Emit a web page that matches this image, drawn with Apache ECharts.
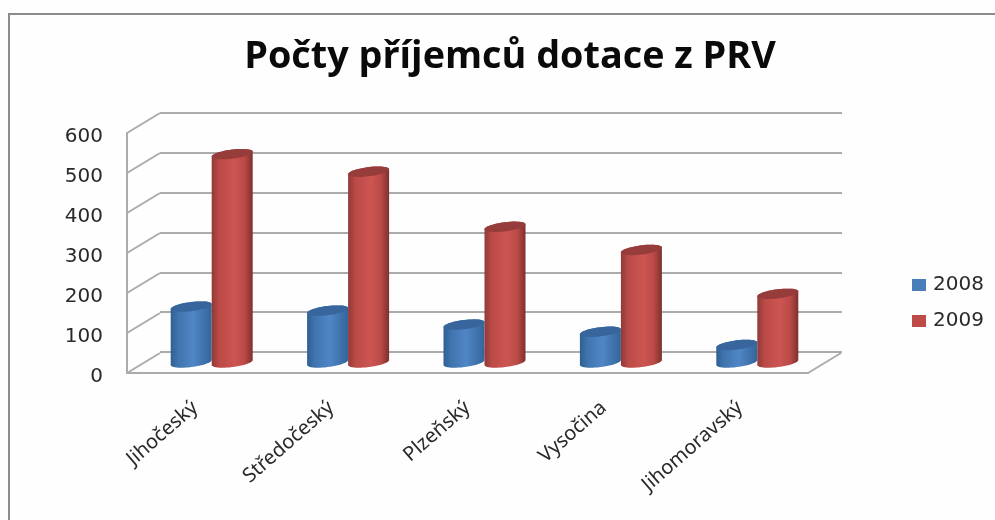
<!DOCTYPE html>
<html><head><meta charset="utf-8">
<style>html,body{margin:0;padding:0;background:#fefefe}#c{width:995px;height:520px}</style>
<script src="https://cdn.jsdelivr.net/npm/echarts@6/dist/echarts.min.js"></script>
</head><body><div id="c"></div>
<script>
const categories = ['Jihočeský','Středočeský','Plzeňský','Vysočina','Jihomoravský'];
const values2008 = [140,130,95,77,44];
const values2009 = [522,478,340,282,172];
const yTicks = [0,100,200,300,400,500,600];

const DX = 33, DY = -20, GRID = '#ababab', FONT = 'DejaVu Sans', TXT = '#2a2a2a';
const chart = echarts.init(document.getElementById('c'));

function tilted(cx, cy, rx, ry, a0, a1, n) {
  const pts = [], t = -0.12;
  for (let i = 0; i <= n; i++) {
    const a = a0 + (a1 - a0) * i / n;
    const x = rx * Math.cos(a), y = ry * Math.sin(a);
    pts.push([cx + x, cy + y + x * t]);
  }
  return pts;
}
function cylinder(side, dark, mid, light, darkEdge, top) {
  return function (params, api) {
    const rx = 20.5, ry = 4.6;
    const base = api.coord([api.value(0), 0]);
    const head = api.coord([api.value(0), api.value(1)]);
    const cx = base[0] + side * rx;
    const upper = tilted(cx, head[1], rx, ry, Math.PI, 2 * Math.PI, 24);
    const lower = tilted(cx, base[1], rx, ry, 0, Math.PI, 24);
    return {
      type: 'group',
      children: [
        { type: 'polygon', shape: { points: upper.concat(lower) },
          style: { fill: new echarts.graphic.LinearGradient(0, 0, 1, 0, [
            { offset: 0, color: dark }, { offset: 0.18, color: mid }, { offset: 0.55, color: light },
            { offset: 0.8, color: mid }, { offset: 1, color: darkEdge }]) } },
        { type: 'polygon', shape: { points: tilted(cx, head[1], rx, ry, 0, 2 * Math.PI, 48) },
          style: { fill: top } }
      ]
    };
  };
}
function pairs(arr) { return arr.map((v, i) => [i, v]); }

const option = {
  animation: false,
  backgroundColor: '#fefefe',
  textStyle: { fontFamily: FONT },
  title: { text: 'Počty příjemců dotace z PRV', left: 505, top: 33, textAlign: 'center',
    textStyle: { fontFamily: 'Open Sans', fontWeight: 'bold', fontSize: 37.8, color: '#0a0a0a' } },
  legend: { data: ['2008', '2009'], orient: 'vertical', left: 907, top: 270, itemWidth: 14, itemHeight: 12,
    itemGap: 16, icon: 'rect', selectedMode: false,
    textStyle: { fontFamily: FONT, fontSize: 20, color: TXT, padding: [0, 0, 0, 2] } },
  graphic: [{ type: 'polyline', silent: true, shape: { points: [[9, 520], [9, 14], [995, 14]] },
    style: { stroke: '#8c8c8c', lineWidth: 2, fill: 'none' } }],
  grid: [
    { left: 127, top: 133, width: 681, height: 240 },
    { left: 160, top: 113, width: 682, height: 239 },
    { left: 143.5, top: 123, width: 682, height: 239.5 }
  ],
  xAxis: [
    { gridIndex: 0, type: 'category', data: categories, axisTick: { show: false },
      axisLine: { lineStyle: { color: GRID, width: 2 } },
      axisLabel: { rotate: 41, margin: 32, fontSize: 20, color: TXT, fontFamily: 'Noto Sans', interval: 0 } },
    { gridIndex: 1, type: 'category', data: categories, show: false },
    { gridIndex: 2, type: 'category', data: categories, show: false }
  ],
  yAxis: [
    { gridIndex: 0, type: 'value', min: 0, max: 600, interval: 100, splitLine: { show: false },
      axisTick: { show: false }, axisLine: { show: true, lineStyle: { color: GRID, width: 2 } },
      axisLabel: { margin: 24, formatter: '{n|{value}}',
        rich: { n: { fontSize: 20, color: TXT, fontFamily: FONT, padding: [8, 0, 0, 0] } } } },
    { gridIndex: 1, type: 'value', min: 0, max: 600, interval: 100,
      axisLabel: { show: false }, axisTick: { show: false }, axisLine: { show: false },
      splitLine: { show: true, lineStyle: { color: GRID, width: 2 } } },
    { gridIndex: 2, type: 'value', min: 0, max: 600, interval: 100, show: false, splitLine: { show: false } }
  ],
  series: [
    { type: 'custom', name: 'connectors', xAxisIndex: 0, yAxisIndex: 0, silent: true, z: 1,
      data: yTicks.map(v => [0, v]), encode: { x: 0, y: 1 },
      renderItem: function (params, api) {
        const x = params.coordSys.x, y = api.coord([0, api.value(1)])[1];
        return { type: 'line', shape: { x1: x, y1: y, x2: x + DX, y2: y + DY },
          style: { stroke: GRID, lineWidth: 2 } };
      } },
    { type: 'custom', name: 'floor', xAxisIndex: 0, yAxisIndex: 0, silent: true, z: 1,
      data: [[4, 0]], encode: { x: 0, y: 1 },
      renderItem: function (params, api) {
        const x = params.coordSys.x + params.coordSys.width, y = api.coord([4, 0])[1];
        return { type: 'line', shape: { x1: x, y1: y, x2: x + DX, y2: y + DY },
          style: { stroke: GRID, lineWidth: 2 } };
      } },
    { type: 'custom', name: '2008', xAxisIndex: 2, yAxisIndex: 2, z: 3, silent: true,
      itemStyle: { color: '#4a7ebb' }, data: pairs(values2008), encode: { x: 0, y: 1 },
      renderItem: cylinder(-1, '#2f5f92', '#4074ae', '#4f86c6', '#33659a', '#37659c') },
    { type: 'custom', name: '2009', xAxisIndex: 2, yAxisIndex: 2, z: 4, silent: true,
      itemStyle: { color: '#be4b48' }, data: pairs(values2009), encode: { x: 0, y: 1 },
      renderItem: cylinder(1, '#8f3a38', '#bb4a47', '#cd5552', '#7e302e', '#963c3a') }
  ]
};
chart.setOption(option);
</script></body></html>
